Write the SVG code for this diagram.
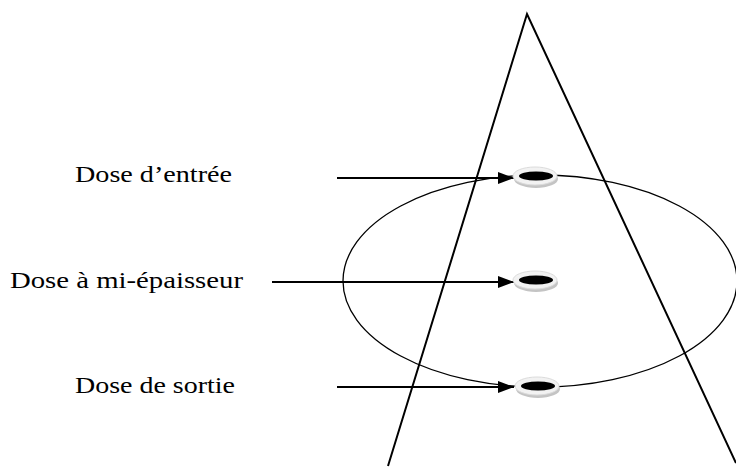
<svg xmlns="http://www.w3.org/2000/svg" width="736" height="473" viewBox="0 0 736 473">
  <style>
    .lbl { font-family: "Liberation Serif", "Times New Roman", serif; font-size: 24px; fill: #000; }
    .ln { stroke: #000; stroke-width: 2; fill: none; }
    .thin { stroke: #000; stroke-width: 1.3; fill: none; }
  </style>
  <defs>
    <marker id="ah" markerWidth="16" markerHeight="12" refX="16" refY="6" orient="auto" markerUnits="userSpaceOnUse">
      <path d="M0,0 L16,6 L0,12 Z" fill="#000"/>
    </marker>
    <g id="dosi">
      <ellipse cx="1" cy="3" rx="22" ry="9" fill="#c4c4c4"/>
      <ellipse cx="0" cy="0" rx="22" ry="9" fill="#f2f2f2" stroke="#dcdcdc" stroke-width="1"/>
      <ellipse cx="1" cy="0" rx="17" ry="4.5" fill="#000"/>
    </g>
  </defs>

  <g id="beam">
    <polyline class="ln" points="388,466 527,14 736,463"/>
  </g>
  <g id="body">
    <ellipse class="thin" cx="540" cy="281" rx="197" ry="106"/>
  </g>

  <g id="connectors">
    <line class="ln" x1="337" y1="178" x2="514" y2="178" marker-end="url(#ah)"/>
    <line class="ln" x1="272" y1="282" x2="514" y2="282" marker-end="url(#ah)"/>
    <line class="ln" x1="337" y1="387" x2="514" y2="387" marker-end="url(#ah)"/>
  </g>

  <g id="dose-entree">
    <use href="#dosi" x="535" y="176"/>
    <text class="lbl" x="75" y="182" textLength="157" lengthAdjust="spacingAndGlyphs">Dose d’entrée</text>
  </g>
  <g id="dose-mi">
    <use href="#dosi" x="535" y="280"/>
    <text class="lbl" x="10" y="288" textLength="233" lengthAdjust="spacingAndGlyphs">Dose à mi-épaisseur</text>
  </g>
  <g id="dose-sortie">
    <use href="#dosi" x="537" y="386"/>
    <text class="lbl" x="75" y="393" textLength="160" lengthAdjust="spacingAndGlyphs">Dose de sortie</text>
  </g>
</svg>
